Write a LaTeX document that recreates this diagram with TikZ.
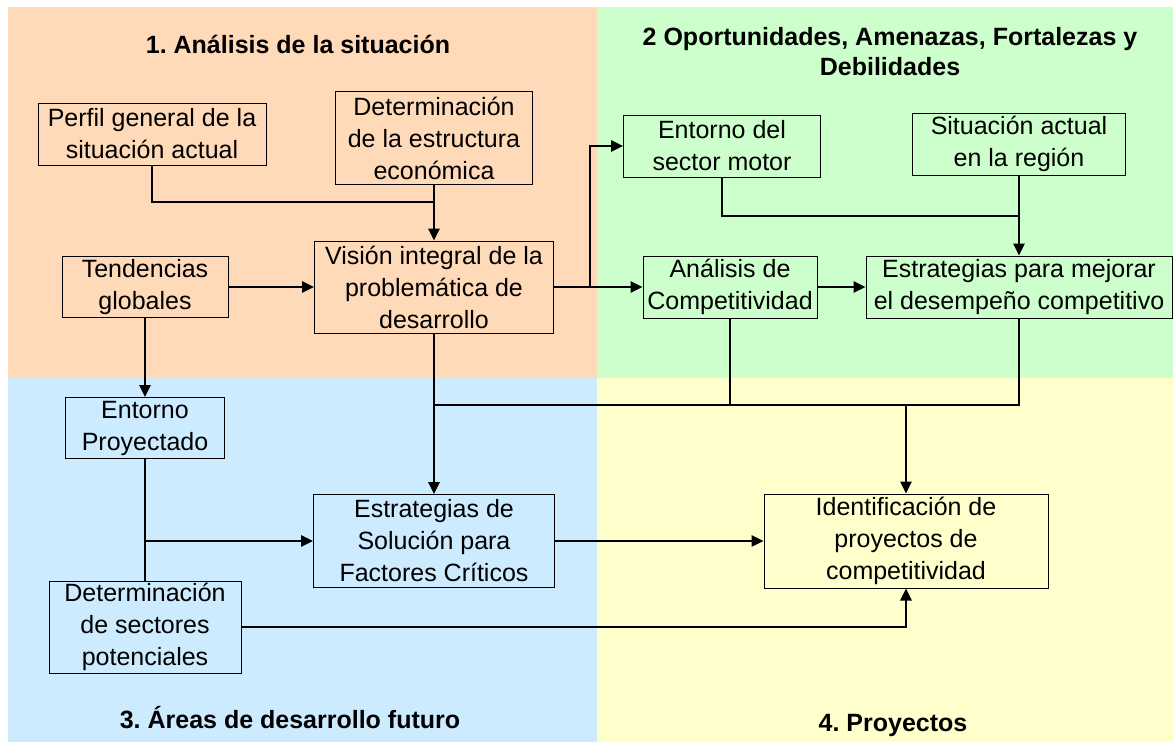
\documentclass[tikz,border=0pt]{standalone}
\usepackage{fontspec}
\setmainfont{Liberation Sans}
\frenchspacing
\usetikzlibrary{arrows.meta, positioning, calc}
\definecolor{naranja}{HTML}{FFDAB9}
\definecolor{verde}{HTML}{CCFFCC}
\definecolor{celeste}{HTML}{CCEBFF}
\definecolor{amarillo}{HTML}{FFFFCC}

\begin{document}
\begin{tikzpicture}[x=1pt, y=-1pt, ->, >={Triangle[length=12pt,width=11pt]}, line width=2.6pt,
                    font=\fontsize{25}{32}\selectfont,
                    caja/.style={draw, line width=1pt, align=center, inner sep=0pt},
                    titulo/.style={font=\fontsize{25}{30}\selectfont\bfseries, align=center}]
                                \useasboundingbox (0,0) rectangle (1173,742);

                                % Quadrants
                                \fill[naranja] (8,7) rectangle (597,378);
                                \fill[verde] (597,7) rectangle (1173,378);
                                \fill[celeste] (8,378) rectangle (597,742);
                                \fill[amarillo] (597,378) rectangle (1173,742);

                                % Titles
                                \node[titulo] (t1) at (298,44) {1. Análisis de la situación};
                                \node[titulo] (t2) at (890,52) {2 Oportunidades, Amenazas, Fortalezas y\\Debilidades};
                                \node[titulo] (t3) at (290,718) {3. Áreas de desarrollo futuro};
                                \node[titulo] (t4) at (893,725) {4. Proyectos};

                                % Define the nodes
                                \node[caja, minimum width=228pt, minimum height=62pt] (perfil) at (152,134) {Perfil general de la\\situación actual};
                                \node[caja, minimum width=197pt, minimum height=93pt] (estructura) at (434,138) {Determinación\\de la estructura\\económica};
                                \node[caja, minimum width=166pt, minimum height=61pt] (tendencias) at (145,287) {Tendencias\\globales};
                                \node[caja, minimum width=239pt, minimum height=92pt] (vision) at (434,287) {Visión integral de la\\problemática de\\desarrollo};
                                \node[caja, minimum width=197pt, minimum height=62pt] (motor) at (722,146) {Entorno del\\sector motor};
                                \node[caja, minimum width=213pt, minimum height=62pt] (situacion) at (1019,144) {Situación actual\\en la región};
                                \node[caja, minimum width=174pt, minimum height=62pt] (analisis) at (730,287) {Análisis de\\Competitividad};
                                \node[caja, minimum width=306pt, minimum height=62pt] (mejorar) at (1019,287) {Estrategias para mejorar\\el desempeño competitivo};
                                \node[caja, minimum width=159pt, minimum height=61pt] (proyectado) at (145,428) {Entorno\\Proyectado};
                                \node[caja, minimum width=241pt, minimum height=93pt] (solucion) at (434,541) {Estrategias de\\Solución para\\Factores Críticos};
                                \node[caja, minimum width=192pt, minimum height=92pt] (sectores) at (145,627) {Determinación\\de sectores\\potenciales};
                                \node[caja, minimum width=284pt, minimum height=94pt] (identificacion) at (906,541) {Identificación de\\proyectos de\\competitividad};

                                % Junctions
                                \coordinate (j1) at (434,202);
                                \coordinate (j2) at (590,287);
                                \coordinate (j3) at (1019,216);
                                \coordinate (j4) at (434,405);
                                \coordinate (j5) at (906,405);
                                \coordinate (j6) at (145,541);

                                % Draw the edges
                                \draw[-] (perfil) |- (j1);
                                \draw[->] (estructura) -- (vision);
                                \draw[->] (tendencias) -- (vision);
                                \draw[->] (tendencias) -- (proyectado);
                                \draw[-] (vision) -- (j2);
                                \draw[->] (j2) |- (motor);
                                \draw[->] (j2) -- (analisis);
                                \draw[-] (motor) |- (j3);
                                \draw[->] (situacion) -- (mejorar);
                                \draw[->] (analisis) -- (mejorar);
                                \draw[->] (vision) -- (solucion);
                                \draw[-] (analisis) |- (j4);
                                \draw[-] (mejorar) |- (j4);
                                \draw[->] (j5) -- (identificacion);
                                \draw[->] (solucion) -- (identificacion);
                                \draw[-] (proyectado) -- (sectores);
                                \draw[->] (j6) -- (solucion);
                                \draw[->] (sectores) -| (identificacion);
\end{tikzpicture}
\end{document}
